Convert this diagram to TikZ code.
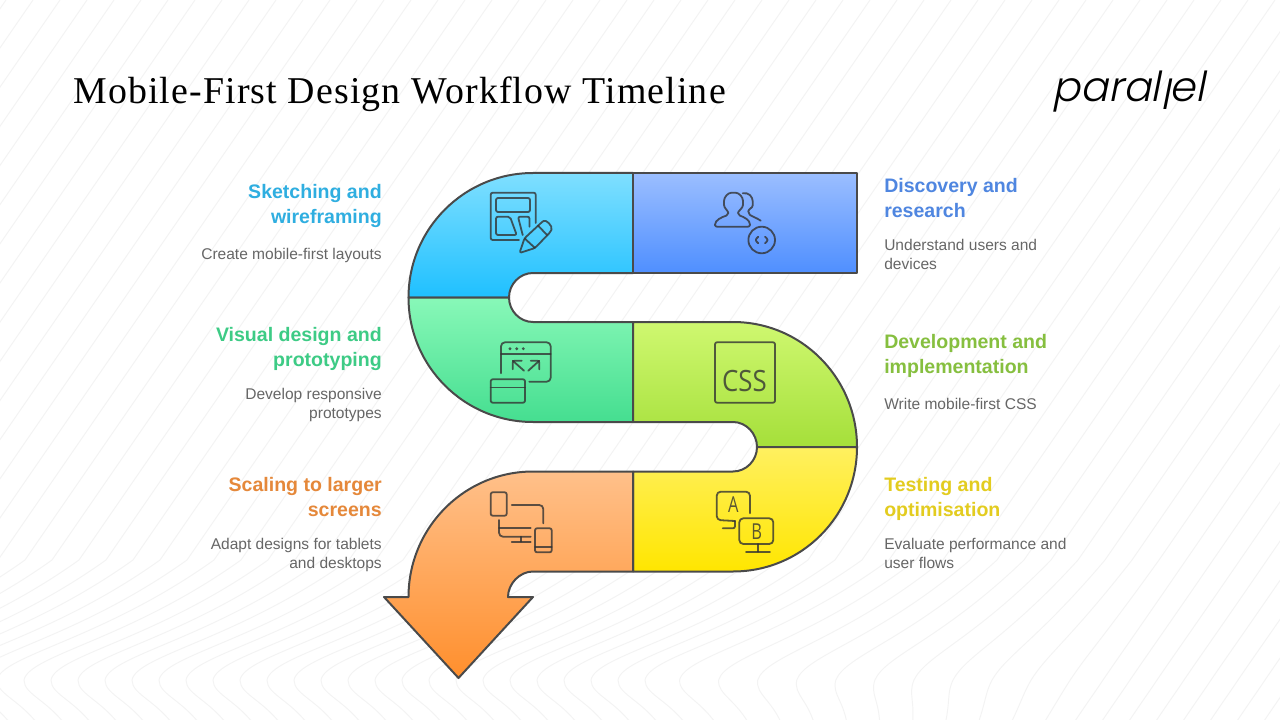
\documentclass[tikz,border=0pt]{standalone}
\usepackage{fontspec}
\setmainfont{Liberation Sans}
\newfontfamily\titlefont[LetterSpace = 3]{Liberation Serif}
\newfontfamily\logofont[FakeSlant = 0.2, UprightFont = *-Light]{Poppins}
\newfontfamily\iconfont{Open Sans}
\usepackage{xcolor}
\usepackage{tikz}
\usetikzlibrary{positioning}

\definecolor{outline}{HTML}{4A4A4A}
\definecolor{linecol}{HTML}{F3F3F3}
\definecolor{notecol}{HTML}{666666}

\begin{document}
\begin{tikzpicture}
[
	x = 0.75pt, y = -0.75pt,
	band/.style	= {draw = outline, line width = 1.5pt, line join = round},
	icon/.style	= {draw = black!80, draw opacity = 0.8, line width = 1.35pt, line cap = round, line join = round, rounded corners = 1.5pt},
	iconletter/.style	= {inner sep = 0cm, text = black!80, text opacity = 0.8, font = \iconfont\fontsize{16.5}{16.5}\selectfont},
	head/.style	= {inner sep = 0cm, font = \bfseries\fontsize{14.65}{18.75}\selectfont},
	headleft/.style	= {head, align = right, anchor = north east},
	headright/.style	= {head, align = left, anchor = north west},
	note/.style	= {inner sep = 0cm, text = notecol, font = \fontsize{11.65}{14.25}\selectfont},
	noteleft/.style	= {note, align = right},
	noteright/.style	= {note, align = left},
]

	\useasboundingbox (0, 0) rectangle (1280, 720);
	\fill [white] (0, 0) rectangle (1280, 720);

	\begin{scope}
		\clip (0, 0) rectangle (1280, 720);
		\foreach \x [evaluate = \x as \a using {min(1, max(0, (1000 - \x) / 300))}] in {-660, -633, ..., 1300}
			\draw [linecol, line width = 0.7pt] (\x + 55 - 55 * \a, 730) .. controls (\x + 75 - 95 * \a, 700) and (\x + 79 - 124 * \a, 695) .. (\x + 89 - 134 * \a, 680)
				.. controls (\x + 106 - 146 * \a, 655) and (\x + 117 - 57 * \a, 640) .. (\x + 172, 560) -- (\x + 558, 0);
	\end{scope}

	\path [band, top color = {rgb,255:red,127;green,223;blue,255}, bottom color = {rgb,255:red,31;green,192;blue,255}]
		(633, 173) -- (533, 173) .. controls (464.2, 173) and (408.5, 228.7) .. (408.5, 297.5)
		-- (509, 297.5) .. controls (509, 284.2) and (519.7, 273) .. (533, 273) -- (633, 273) -- cycle;
	\path [band, top color = {rgb,255:red,155;green,190;blue,255}, bottom color = {rgb,255:red,79;green,143;blue,255}]
		(633, 173) rectangle (857, 273);
	\path [band, top color = {rgb,255:red,136;green,248;blue,184}, bottom color = {rgb,255:red,69;green,222;blue,144}]
		(408.5, 297.5) .. controls (408.5, 366.3) and (464.2, 422) .. (533, 422) -- (633, 422) -- (633, 322) -- (533, 322)
		.. controls (519.7, 322) and (509, 310.8) .. (509, 297.5) -- cycle;
	\path [band, top color = {rgb,255:red,207;green,248;blue,112}, bottom color = {rgb,255:red,165;green,223;blue,58}]
		(633, 322) -- (733, 322) .. controls (801.8, 322) and (857, 378.2) .. (857, 447) -- (757, 447)
		.. controls (757, 433.7) and (746.3, 422) .. (733, 422) -- (633, 422) -- cycle;
	\path [band, top color = {rgb,255:red,255;green,240;blue,96}, bottom color = {rgb,255:red,255;green,230;blue,0}]
		(857, 447) .. controls (857, 515.8) and (801.8, 571.5) .. (733, 571.5) -- (633, 571.5) -- (633, 471.5) -- (733, 471.5)
		.. controls (746.3, 471.5) and (757, 460.3) .. (757, 447) -- cycle;
	\path [band, top color = {rgb,255:red,255;green,192;blue,138}, bottom color = {rgb,255:red,255;green,143;blue,45}]
		(633, 471.5) -- (533, 471.5) .. controls (464.2, 471.5) and (408.5, 527.7) .. (408.5, 597) -- (384, 597) -- (458.5, 678)
		-- (533, 597) -- (508, 597) .. controls (508, 583.7) and (519.7, 571.5) .. (533, 571.5) -- (633, 571.5) -- cycle;

	% sketching
	\draw [icon] (535.7, 223) -- (535.7, 192.7) -- (490.7, 192.7) -- (490.7, 240) -- (519, 240);
	\draw [icon] (496, 198) rectangle (530, 212);
	\draw [icon] (496, 216.7) -- (510, 216.7) -- (516.7, 235) -- (496, 235) -- cycle;
	\draw [icon] (522.7, 235) -- (518, 216.7) -- (529.5, 216.7) -- (529.5, 226.7);
	\draw [icon] (519.5, 253) -- (524.5, 238.3) -- (541.7, 222.3) .. controls (546, 219) and (553, 226) .. (550.7, 231.7)
		-- (535, 248) -- cycle;
	\draw [icon] (538, 225.5) -- (547, 235);
	\draw [icon] (524.5, 238.3) -- (535, 248);
	%
	% discovery
	\draw [icon] (715, 226.7) -- (750, 226.7) .. controls (750, 220) and (744, 217) .. (738, 215)
		.. controls (738, 211) and (743, 208) .. (743, 203) .. controls (743, 197) and (739, 192.7) .. (733.5, 192.7)
		.. controls (728, 192.7) and (724, 197) .. (724, 203) .. controls (724, 208) and (728.3, 211) .. (728.3, 215)
		.. controls (722, 217) and (715, 220) .. (715, 226.7) -- cycle;
	\draw [icon] (742.7, 193.3) .. controls (749, 192) and (752.7, 197) .. (752.7, 203.3) .. controls (752.7, 208) and (748.3, 209) .. (748.3, 213.3)
		.. controls (751, 216) and (757, 218) .. (760.7, 220.7);
	\draw [icon] (761.7, 240) circle [radius = 13.3];
	\draw [icon] (758.3, 236.7) -- (755, 240) -- (758.3, 243.3);
	\draw [icon] (765, 236.7) -- (768.3, 240) -- (765, 243.3);
	%
	% visual design
	\draw [icon, rounded corners = 3pt] (501, 373.3) -- (501, 342.3) -- (550.7, 342.3) -- (550.7, 381.7) -- (529.3, 381.7);
	\draw [icon] (501, 354) -- (550.7, 354);
	\foreach \x in {510, 516.7, 523.3}
		\fill [black!80, opacity = 0.8] (\x, 348.7) circle [radius = 1.6];
	\draw [icon] (524, 370.7) -- (512.7, 360.7);
	\draw [icon] (521.7, 360.7) -- (512.7, 360.7) -- (512.7, 369.3);
	\draw [icon] (528.3, 370.7) -- (539.3, 360.7);
	\draw [icon] (530.7, 360.7) -- (539.3, 360.7) -- (539.3, 369.3);
	\draw [icon] (490.7, 379.3) rectangle (525, 402.7);
	\draw [icon] (490.7, 387.5) -- (525, 387.5);
	%
	% css
	\draw [icon] (715, 342.3) rectangle (775, 402.7);
	\node (cssletters) [iconletter, font = \iconfont\fontsize{22}{22}\selectfont, xscale = 0.88] at (744.5, 381.5) {CSS};
	%
	% testing
	\draw [icon, rounded corners = 3pt] (750, 513.3) -- (750, 491.7) -- (716.7, 491.7) -- (716.7, 520) -- (735, 521);
	\draw [icon] (735, 521) -- (735, 528.3) -- (722.7, 528.3);
	\draw [icon, rounded corners = 3pt] (739.3, 518.3) rectangle (773.3, 544);
	\draw [icon] (757.7, 544) -- (757.7, 551.7);
	\draw [icon] (746, 551.7) -- (770, 551.7);
	\node (letterA) [iconletter, xscale = 0.75] at (733.3, 505) {A};
	\node (letterB) [iconletter, xscale = 0.75] at (756.7, 531.5) {B};
	%
	% scaling
	\draw [icon] (490.7, 492.3) rectangle (506.7, 515.7);
	\draw [icon, rounded corners = 3pt] (511.7, 505) -- (543.3, 505) -- (543.3, 523.3);
	\draw [icon, rounded corners = 3pt] (499, 520) -- (499, 536.7) -- (530.7, 536.7);
	\draw [icon] (499, 528.3) -- (530.7, 528.3);
	\draw [icon] (521, 536.7) -- (521, 541.7);
	\draw [icon] (511.7, 541.7) -- (530.7, 541.7);
	\draw [icon] (535, 528.3) rectangle (551.7, 552.3);
	\draw [icon] (535, 546.7) -- (551.7, 546.7);

	\node (title) [inner sep = 0cm, anchor = base west, font = \titlefont\fontsize{28.4}{30}\selectfont] at (73, 103.5) {Mobile-First Design Workflow Timeline};
	\node (logo) [inner sep = 0cm, anchor = base west, font = \logofont\fontsize{31}{31}\selectfont] at (1052, 102) {paral\raisebox{-6pt}{l}el};

	\node (sketchhead) [headleft, text = {rgb,255:red,47;green,174;blue,224}] at (382, 184) {Sketching and\\wireframing\strut};
	\node (sketchnote) [noteleft, below left = 12.75pt and 0cm of sketchhead.south east] {Create mobile-first layouts};
	%
	\node (visualhead) [headleft, text = {rgb,255:red,61;green,203;blue,133}] at (382, 327) {Visual design and\\prototyping\strut};
	\node (visualnote) [noteleft, below left = 10.5pt and 0cm of visualhead.south east] {Develop responsive\\prototypes};
	%
	\node (scalinghead) [headleft, text = {rgb,255:red,229;green,136;blue,58}] at (382, 477) {Scaling to larger\\screens\strut};
	\node (scalingnote) [noteleft, below left = 10.5pt and 0cm of scalinghead.south east] {Adapt designs for tablets\\and desktops};
	%
	\node (discoveryhead) [headright, text = {rgb,255:red,79;green,134;blue,224}] at (884, 178) {Discovery and\\research\strut};
	\node (discoverynote) [noteright, below right = 10.5pt and 0cm of discoveryhead.south west] {Understand users and\\devices};
	%
	\node (develophead) [headright, text = {rgb,255:red,134;green,191;blue,63}] at (884, 334) {Development and\\implementation\strut};
	\node (developnote) [noteright, below right = 12.75pt and 0cm of develophead.south west] {Write mobile-first CSS};
	%
	\node (testinghead) [headright, text = {rgb,255:red,227;green,204;blue,31}] at (884, 477) {Testing and\\optimisation\strut};
	\node (testingnote) [noteright, below right = 10.5pt and 0cm of testinghead.south west] {Evaluate performance and\\user flows};

\end{tikzpicture}
\end{document}
